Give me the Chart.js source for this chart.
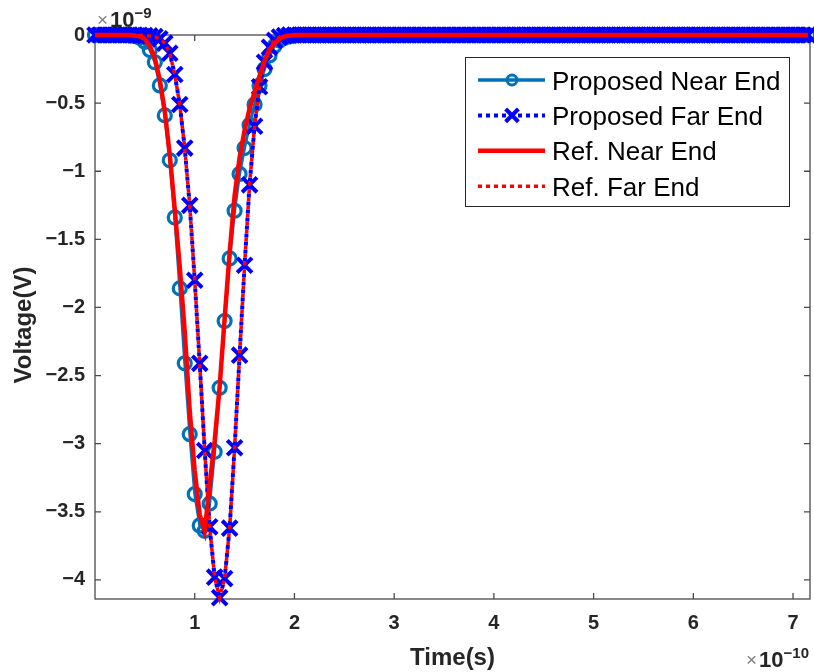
<!DOCTYPE html>
<html>
<head>
<meta charset="utf-8">
<title>Voltage vs time</title>
<script src="https://cdn.jsdelivr.net/npm/chart.js@4.4.1/dist/chart.umd.min.js"></script>
<style>
  html, body { margin: 0; padding: 0; background: #fff; }
  #wrap { width: 814px; height: 672px; }
</style>
</head>
<body>
<div id="wrap"><canvas id="voltageChart" width="814" height="672"></canvas></div>
<script>
// time axis is in units of 1e-10 s, voltage in units of 1e-9 V
const sampleStep = 0.05;

// samples from t = 0 to t = 2.05
const proposedNear = [
    0, 0, 0, 0, 0, 0, 0, -0.003, -0.008, -0.02,
    -0.05, -0.11, -0.20, -0.37, -0.59, -0.92, -1.34, -1.86, -2.41, -2.93,
    -3.37, -3.60, -3.64, -3.44, -3.06, -2.59, -2.10, -1.64, -1.29, -1.02,
    -0.83, -0.66, -0.51, -0.37, -0.25, -0.15, -0.08, -0.04, -0.02, -0.01,
    -0.004, 0
];
const proposedFar = [
    0, 0, 0, 0, 0, 0, 0, 0, 0, -0.002,
    -0.004, -0.007, -0.012, -0.028, -0.06, -0.134, -0.29, -0.51, -0.83, -1.25,
    -1.80, -2.41, -3.05, -3.61, -3.98, -4.13, -3.99, -3.62, -3.03, -2.35,
    -1.69, -1.10, -0.67, -0.38, -0.20, -0.09, -0.04, -0.015, -0.005, 0,
    0, 0
];
const refNear = [
    0, 0, 0, 0, 0, 0, 0, 0, -0.005, -0.01,
    -0.03, -0.08, -0.17, -0.33, -0.56, -0.88, -1.28, -1.70, -2.18, -2.76,
    -3.20, -3.52, -3.64, -3.30, -2.98, -2.58, -2.08, -1.60, -1.18, -0.90,
    -0.70, -0.54, -0.42, -0.30, -0.19, -0.11, -0.06, -0.03, -0.01, -0.005,
    0, 0
];
const refFar = [
    0, 0, 0, 0, 0, 0, 0, 0, 0, -0.002,
    -0.004, -0.007, -0.012, -0.028, -0.06, -0.134, -0.29, -0.51, -0.83, -1.25,
    -1.80, -2.41, -3.05, -3.61, -3.98, -4.13, -3.99, -3.62, -3.03, -2.35,
    -1.69, -1.10, -0.67, -0.38, -0.20, -0.09, -0.04, -0.015, -0.005, 0,
    0, 0
];
// after 2.05 every trace sits flat at 0 V up to t = 7.15
const flatTail = [
    0, 0, 0, 0, 0, 0, 0, 0, 0, 0, 0, 0, 0, 0, 0, 0, 0, 0, 0, 0, 0, 0, 0, 0, 0, 0, 0, 0, 0, 0, 0, 0, 0, 0,
    0, 0, 0, 0, 0, 0, 0, 0, 0, 0, 0, 0, 0, 0, 0, 0, 0, 0, 0, 0, 0, 0, 0, 0, 0, 0, 0, 0, 0, 0, 0, 0, 0, 0,
    0, 0, 0, 0, 0, 0, 0, 0, 0, 0, 0, 0, 0, 0, 0, 0, 0, 0, 0, 0, 0, 0, 0, 0, 0, 0, 0, 0, 0, 0, 0, 0, 0, 0
];

const seriesLabels = ['Proposed Near End', 'Proposed Far End', 'Ref. Near End', 'Ref. Far End'];
const xTicks = [1, 2, 3, 4, 5, 6, 7];
const yTicks = [0, -0.5, -1, -1.5, -2, -2.5, -3, -3.5, -4];

const X_MIN = 0, X_MAX = 7.17;
const Y_MIN = -4.14, Y_MAX = 0;

const FONT = '"Liberation Sans", Arial, Helvetica, sans-serif';
const AXIS_COLOR = '#4a4a4a';

function toPoints(values) {
    return values.concat(flatTail).map((v, i) => ({ x: i * sampleStep, y: v }));
}

function minusLabel(v) {
    return v < 0 ? '\u2212' + String(-v) : String(v);
}

// axes box with inward ticks on all four sides, drawn under the data like MATLAB
const boxAxes = {
    id: 'boxAxes',
    beforeDatasetsDraw(chart) {
        const { ctx, chartArea: a, scales } = chart;
        const len = 6;
        ctx.save();
        ctx.strokeStyle = AXIS_COLOR;
        ctx.lineWidth = 1.3;
        ctx.strokeRect(a.left, a.top, a.right - a.left, a.bottom - a.top);
        ctx.beginPath();
        xTicks.forEach(t => {
            const px = scales.x.getPixelForValue(t);
            ctx.moveTo(px, a.bottom); ctx.lineTo(px, a.bottom - len);
            ctx.moveTo(px, a.top); ctx.lineTo(px, a.top + len);
        });
        yTicks.forEach(t => {
            const py = scales.y.getPixelForValue(t);
            ctx.moveTo(a.left, py); ctx.lineTo(a.left + len, py);
            ctx.moveTo(a.right, py); ctx.lineTo(a.right - len, py);
        });
        ctx.stroke();
        ctx.restore();
    }
};

function drawCircleMark(ctx, x, y, r, color, w) {
    ctx.beginPath();
    ctx.arc(x, y, r, 0, Math.PI * 2);
    ctx.strokeStyle = color;
    ctx.lineWidth = w;
    ctx.setLineDash([]);
    ctx.stroke();
}

function drawCrossMark(ctx, x, y, r, color, w) {
    const d = r * Math.SQRT1_2;
    ctx.beginPath();
    ctx.moveTo(x - d, y - d); ctx.lineTo(x + d, y + d);
    ctx.moveTo(x - d, y + d); ctx.lineTo(x + d, y - d);
    ctx.strokeStyle = color;
    ctx.lineWidth = w;
    ctx.setLineDash([]);
    ctx.stroke();
}

// exponent note such as "x10^-9"
function drawExponent(ctx, x, baseline, power) {
    ctx.fillStyle = '#808080';
    ctx.font = '19px ' + FONT;
    ctx.textAlign = 'left';
    ctx.textBaseline = 'alphabetic';
    ctx.fillText('\u00d7', x, baseline - 1);
    const xw = ctx.measureText('\u00d7').width;
    ctx.fillStyle = '#262626';
    ctx.font = 'bold 22px ' + FONT;
    ctx.fillText('10', x + xw + 2, baseline);
    const tw = ctx.measureText('10').width;
    ctx.font = 'bold 15px ' + FONT;
    ctx.fillText(power, x + xw + 2 + tw, baseline - 9);
}

const annotations = {
    id: 'annotations',
    afterDraw(chart) {
        const ctx = chart.ctx;
        const a = chart.chartArea;
        ctx.save();

        // axis titles
        ctx.fillStyle = '#262626';
        ctx.font = 'bold 24px ' + FONT;
        ctx.textAlign = 'center';
        ctx.textBaseline = 'alphabetic';
        ctx.fillText('Time(s)', (a.left + a.right) / 2, 665);
        ctx.save();
        ctx.translate(31, (a.top + a.bottom) / 2 + 8);
        ctx.rotate(-Math.PI / 2);
        ctx.fillText('Voltage(V)', 0, 0);
        ctx.restore();

        drawExponent(ctx, 97, 27, '\u22129');
        drawExponent(ctx, 746, 667, '\u221210');

        // legend box
        const bx = 465, by = 57, bw = 324, bh = 149;
        ctx.fillStyle = '#fff';
        ctx.fillRect(bx, by, bw, bh);
        ctx.strokeStyle = '#262626';
        ctx.lineWidth = 1;
        ctx.setLineDash([]);
        ctx.strokeRect(bx + 0.5, by + 0.5, bw, bh);

        chart.data.datasets.forEach((ds, i) => {
            const y = 80 + i * 35.4;
            ctx.beginPath();
            ctx.setLineDash(ds.borderDash || []);
            ctx.lineDashOffset = 0;
            ctx.strokeStyle = ds.borderColor;
            ctx.lineWidth = ds.pointStyle === 'circle' ? 3.5 : ds.borderWidth;
            ctx.moveTo(478, y);
            ctx.lineTo(545, y);
            ctx.stroke();
            ctx.setLineDash([]);
            if (ds.pointStyle === 'circle') drawCircleMark(ctx, 512, y, 5, ds.borderColor, 3);
            if (ds.pointStyle === 'crossRot') drawCrossMark(ctx, 512, y, 9, ds.borderColor, 4);
            ctx.fillStyle = '#000';
            ctx.font = '26px ' + FONT;
            ctx.textAlign = 'left';
            ctx.textBaseline = 'alphabetic';
            ctx.fillText(ds.label, 552, y + 9.5);
        });
        ctx.restore();
    }
};

const chart = new Chart(document.getElementById('voltageChart').getContext('2d'), {
    type: 'line',
    data: {
        datasets: [
            {
                label: seriesLabels[0],
                data: toPoints(proposedNear),
                borderColor: '#0072BD',
                borderWidth: 3,
                pointStyle: 'circle',
                pointRadius: 6.5,
                pointBorderWidth: 3.2,
                pointBackgroundColor: 'rgba(0,0,0,0)',
                order: 4
            },
            {
                label: seriesLabels[1],
                data: toPoints(proposedFar),
                borderColor: '#0000FF',
                borderWidth: 4,
                borderDash: [4, 4],
                pointStyle: 'crossRot',
                pointRadius: 10.5,
                pointBorderWidth: 4,
                pointBackgroundColor: 'rgba(0,0,0,0)',
                order: 3
            },
            {
                label: seriesLabels[2],
                data: toPoints(refNear),
                borderColor: '#FF0000',
                borderWidth: 4.5,
                pointRadius: 0,
                order: 2
            },
            {
                label: seriesLabels[3],
                data: toPoints(refFar),
                borderColor: '#FF0000',
                borderWidth: 3.5,
                borderDash: [4, 4],
                borderDashOffset: 4,
                pointRadius: 0,
                order: 1
            }
        ]
    },
    options: {
        responsive: false,
        animation: false,
        events: [],
        clip: false,
        elements: { line: { tension: 0, fill: false } },
        layout: { autoPadding: false, padding: { left: 0, top: 35, right: 4, bottom: 0 } },
        scales: {
            x: {
                type: 'linear',
                min: X_MIN,
                max: X_MAX,
                grid: { display: false, drawTicks: false },
                border: { display: false },
                afterBuildTicks: scale => { scale.ticks = xTicks.map(v => ({ value: v })); },
                afterFit: scale => { scale.height = 73; },
                ticks: {
                    padding: 12,
                    maxRotation: 0,
                    autoSkip: false,
                    color: '#262626',
                    font: { family: FONT, size: 20, weight: 'bold' },
                    callback: v => String(v)
                }
            },
            y: {
                type: 'linear',
                min: Y_MIN,
                max: Y_MAX,
                grid: { display: false, drawTicks: false },
                border: { display: false },
                afterBuildTicks: scale => { scale.ticks = yTicks.map(v => ({ value: v })); },
                afterFit: scale => { scale.width = 95; },
                ticks: {
                    padding: 10,
                    autoSkip: false,
                    color: '#262626',
                    font: { family: FONT, size: 20, weight: 'bold' },
                    callback: v => minusLabel(v)
                }
            }
        },
        plugins: {
            legend: { display: false },
            tooltip: { enabled: false },
            title: { display: false }
        }
    },
    plugins: [boxAxes, annotations]
});
</script>
</body>
</html>
